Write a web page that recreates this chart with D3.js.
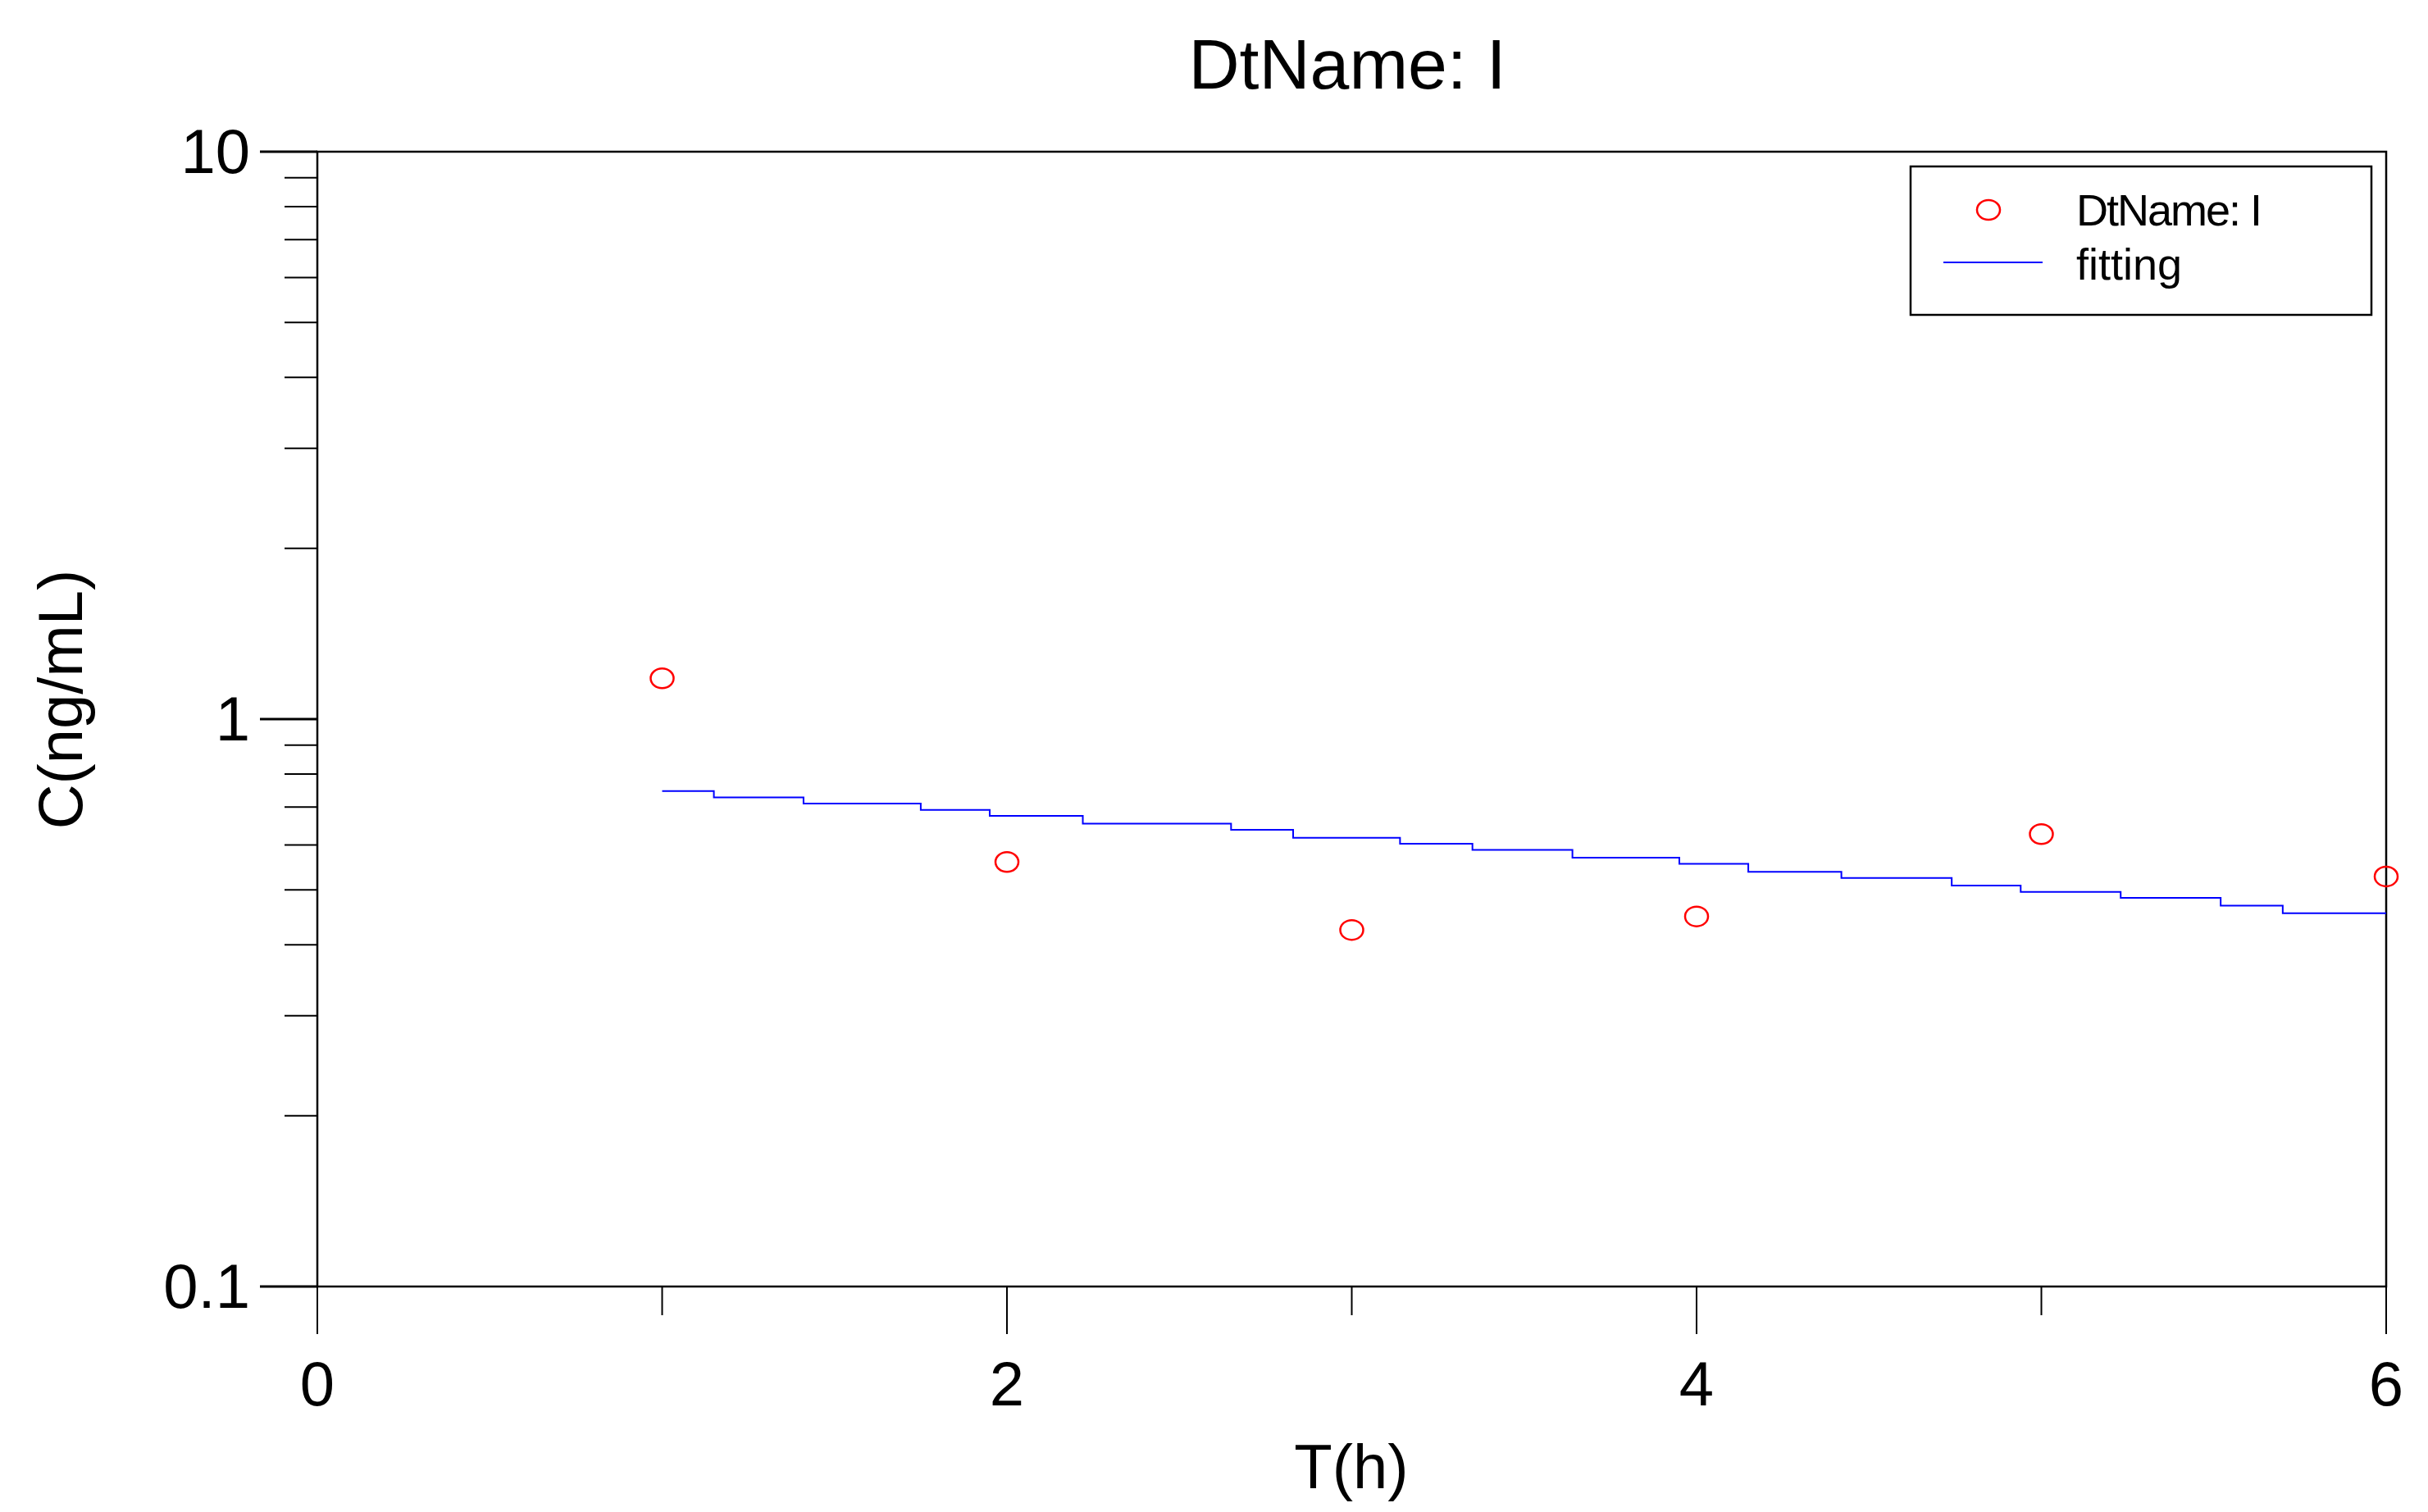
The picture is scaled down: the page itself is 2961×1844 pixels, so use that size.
<!DOCTYPE html>
<html><head><meta charset="utf-8">
<script src="https://cdn.jsdelivr.net/npm/d3@7"></script>
<style>body{margin:0;background:#fff}text{font-family:"Liberation Sans",Arial,sans-serif}</style>
</head><body>
<script>
const obsT = [1, 2, 3, 4, 5, 6];
const obsC = [1.18, 0.56, 0.425, 0.449, 0.627, 0.528];
const fitT = [1.00, 1.15, 1.41, 1.75, 1.95, 2.22, 2.65, 2.83, 3.14, 3.35, 3.64, 3.95, 4.15, 4.42, 4.74, 4.94, 5.23, 5.52, 5.70, 6.00];
const fitC = [0.747, 0.728, 0.710, 0.692, 0.675, 0.654, 0.638, 0.618, 0.603, 0.588, 0.570, 0.556, 0.538, 0.525, 0.509, 0.496, 0.484, 0.469, 0.455, 0.455];
const xMajor = [0, 2, 4, 6];
const xMinor = [1, 3, 5];
const yMajor = [0.1, 1, 10];
const yMinor = [0.2,0.3,0.4,0.5,0.6,0.7,0.8,0.9,2,3,4,5,6,7,8,9];

const W = 2961, H = 1844;
const L = 387, R = 2910, T = 185, B = 1569;
const svg = d3.select("body").append("svg").attr("width", W).attr("height", H);
const x = d3.scaleLinear().domain([0, 6]).range([L, R]);
const y = d3.scaleLog().domain([0.1, 10]).range([B, T]);

svg.append("rect").attr("x", L).attr("y", T).attr("width", R - L).attr("height", B - T)
  .attr("fill", "none").attr("stroke", "#000").attr("stroke-width", 2.5);

svg.selectAll(".xM").data(xMajor).join("line").attr("x1", d => x(d)).attr("x2", d => x(d))
  .attr("y1", B).attr("y2", B + 58).attr("stroke", "#000").attr("stroke-width", 2);
svg.selectAll(".xm").data(xMinor).join("line").attr("x1", d => x(d)).attr("x2", d => x(d))
  .attr("y1", B).attr("y2", B + 35).attr("stroke", "#000").attr("stroke-width", 2);
svg.selectAll(".xl").data(xMajor).join("text").attr("x", d => x(d)).attr("y", B + 145)
  .attr("text-anchor", "middle").attr("font-size", 76).text(d => d);

svg.selectAll(".yM").data(yMajor).join("line").attr("x1", L - 70).attr("x2", L)
  .attr("y1", d => y(d)).attr("y2", d => y(d)).attr("stroke", "#000").attr("stroke-width", 3);
svg.selectAll(".ym").data(yMinor).join("line").attr("x1", L - 40).attr("x2", L)
  .attr("y1", d => y(d)).attr("y2", d => y(d)).attr("stroke", "#000").attr("stroke-width", 2);
svg.selectAll(".yl").data(yMajor).join("text").attr("x", L - 82).attr("y", d => y(d) + 26)
  .attr("text-anchor", "end").attr("font-size", 76).text(d => d);

svg.append("path").datum(fitT.map((t, i) => [t, fitC[i]]))
  .attr("d", d3.line().x(d => x(d[0])).y(d => y(d[1])).curve(d3.curveStepAfter))
  .attr("fill", "none").attr("stroke", "#0000ff").attr("stroke-width", 2);

svg.selectAll(".pt").data(obsT.map((t, i) => [t, obsC[i]])).join("ellipse")
  .attr("cx", d => x(d[0])).attr("cy", d => y(d[1])).attr("rx", 14).attr("ry", 12)
  .attr("fill", "none").attr("stroke", "#ff0000").attr("stroke-width", 2.5);

svg.append("text").attr("x", 1643).attr("y", 108).attr("text-anchor", "middle").attr("font-size", 86).text("DtName: I");
svg.append("text").attr("x", 1648).attr("y", 1815).attr("text-anchor", "middle").attr("font-size", 76).text("T(h)");
svg.append("text").attr("transform", "translate(100,853) rotate(-90)").attr("text-anchor", "middle").attr("font-size", 76).text("C(ng/mL)");

const lg = svg.append("g");
lg.append("rect").attr("x", 2330).attr("y", 203).attr("width", 562).attr("height", 181)
  .attr("fill", "#fff").attr("stroke", "#000").attr("stroke-width", 2.5);
lg.append("ellipse").attr("cx", 2425).attr("cy", 256).attr("rx", 14).attr("ry", 12)
  .attr("fill", "none").attr("stroke", "#ff0000").attr("stroke-width", 2.5);
lg.append("line").attr("x1", 2370).attr("x2", 2491).attr("y1", 320).attr("y2", 320)
  .attr("stroke", "#0000ff").attr("stroke-width", 2);
lg.append("text").attr("x", 2532).attr("y", 275).attr("font-size", 54).attr("letter-spacing", -2).text("DtName:  I");
lg.append("text").attr("x", 2532).attr("y", 341).attr("font-size", 54).text("fitting");
</script>
</body></html>
